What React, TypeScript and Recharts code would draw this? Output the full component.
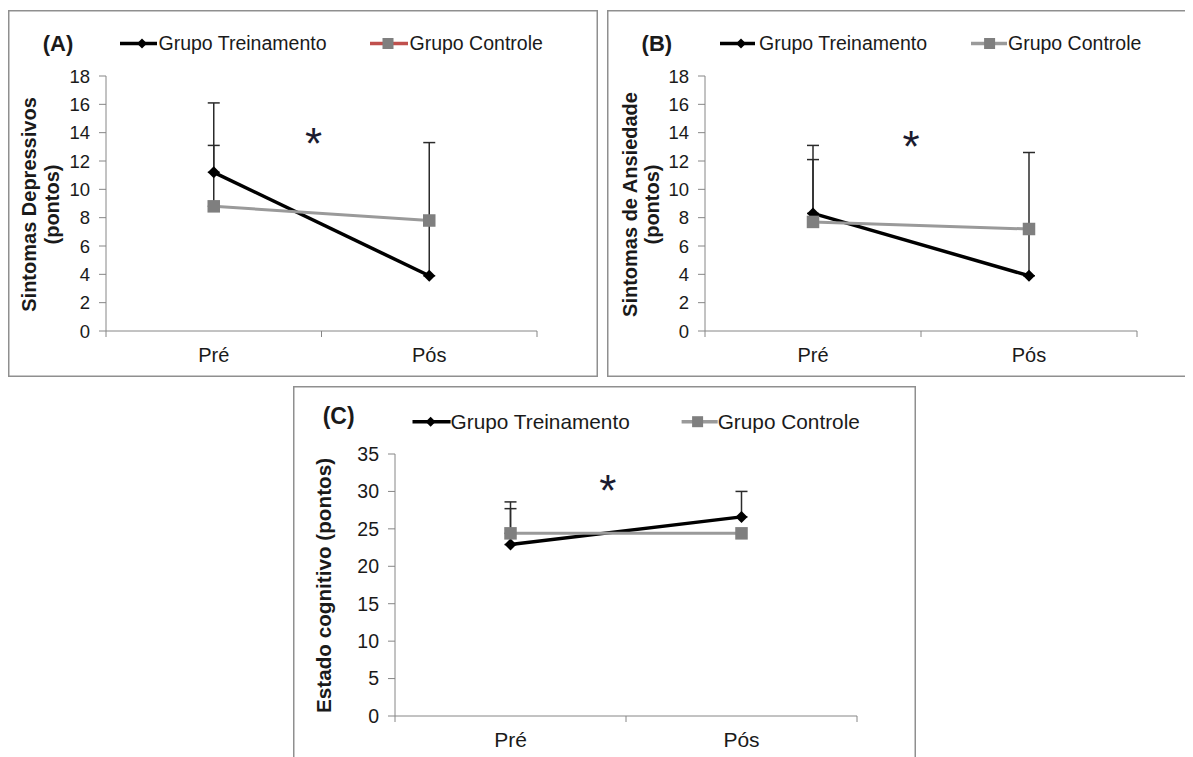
import React from 'react';
import { LineChart, Line, XAxis, YAxis, ErrorBar, ReferenceDot } from 'recharts';

// ---------- data ----------
const categories = ['Pré', 'Pós'];
const seriesNames = ['Grupo Treinamento', 'Grupo Controle'];

const depTreino = [11.2, 3.9];
const depTreinoErr = [4.9, 9.4];
const depControle = [8.8, 7.8];
const depControleErr = [4.3, undefined];

const anxTreino = [8.3, 3.9];
const anxTreinoErr = [4.8, 8.7];
const anxControle = [7.7, 7.2];
const anxControleErr = [4.4, undefined];

const cogTreino = [22.9, 26.6];
const cogTreinoErr = [5.7, 3.4];
const cogControle = [24.4, 24.4];
const cogControleErr = [3.3, undefined];

const depTicks = [0, 2, 4, 6, 8, 10, 12, 14, 16, 18];
const anxTicks = [0, 2, 4, 6, 8, 10, 12, 14, 16, 18];
const cogTicks = [0, 5, 10, 15, 20, 25, 30, 35];

// asterisk annotation positions (data units: x in category-boundary units, y in axis units)
const depStar = { x: 0.963, y: 14.0 };
const anxStar = { x: 0.954, y: 13.8 };
const cogStar = { x: 0.921, y: 31.6 };

// ---------- styles ----------
const FONT = '"Liberation Sans", Arial, Helvetica, sans-serif';
const AXIS = '#868686';
const TEXT = '#1a1a1a';
const BORDER = '#8f8f8f';
const TREINO = '#000000';
const CONTROLE_LINE = '#9a9a9a';
const CONTROLE_MARK = '#7f7f7f';
const ERR = '#2b2b2b';

function buildRows(t: number[], tErr: any[], c: number[], cErr: any[]) {
  return categories.map((name, i) => ({
    pos: i + 0.5,
    name,
    treino: t[i],
    controle: c[i],
    treinoErr: tErr[i] == null ? undefined : [0, tErr[i]],
    controleErr: cErr[i] == null ? undefined : [0, cErr[i]],
  }));
}

const depRows = buildRows(depTreino, depTreinoErr, depControle, depControleErr);
const anxRows = buildRows(anxTreino, anxTreinoErr, anxControle, anxControleErr);
const cogRows = buildRows(cogTreino, cogTreinoErr, cogControle, cogControleErr);

const diamondDot = (props: any) => {
  const { cx, cy, index } = props;
  if (cx == null || cy == null) return <g key={`dmn-${index}`} />;
  const h = 6;
  return (
    <path
      key={`dm-${index}`}
      d={`M${cx},${cy - h}L${cx + h},${cy}L${cx},${cy + h}L${cx - h},${cy}Z`}
      fill={TREINO}
    />
  );
};

const squareDot = (props: any) => {
  const { cx, cy, index } = props;
  if (cx == null || cy == null) return <g key={`sqn-${index}`} />;
  const s = 12.5;
  return <rect key={`sq-${index}`} x={cx - s / 2} y={cy - s / 2} width={s} height={s} fill={CONTROLE_MARK} />;
};

const makeXTick = (fontSize: number) => (props: any) => {
  const { x, y, payload } = props;
  const v = payload.value;
  if (Number.isInteger(v)) {
    return <line x1={x} y1={y} x2={x} y2={y + 6} stroke={AXIS} strokeWidth={1} />;
  }
  return (
    <text x={x} y={y + 31} textAnchor="middle" fontSize={fontSize} fill={TEXT} fontFamily={FONT}>
      {categories[Math.floor(v)]}
    </text>
  );
};

const starShape = (props: any) => {
  const { cx, cy } = props;
  const fs = 44;
  return (
    <text x={cx} y={cy + fs * 0.6} textAnchor="middle" fontSize={fs} fill="#1b1b2f" fontFamily={FONT}>
      *
    </text>
  );
};

type LegendSpec = {
  y: number;
  baseline: number;
  fontSize: number;
  t: number[];
  c: number[];
  cLineColor: string;
};

type PanelProps = {
  left: number;
  top: number;
  width: number;
  height: number;
  margin: { top: number; right: number; bottom: number; left: number };
  rows: any[];
  yDomain: [number, number];
  yTicks: number[];
  star: { x: number; y: number };
  title: { text: string; x: number; baseline: number; fontSize: number };
  yLabel: { lines: string[]; baselines: number[]; center: number; fontSize: number };
  legend: LegendSpec;
  yTickFont: number;
  xTickFont: number;
};

function Panel(p: PanelProps) {
  const L = p.legend;
  return (
    <div style={{ position: 'absolute', left: p.left, top: p.top, width: p.width, height: p.height }}>
      <LineChart width={p.width} height={p.height} data={p.rows} margin={p.margin}>
        <XAxis
          dataKey="pos"
          type="number"
          domain={[0, 2]}
          ticks={[0, 0.5, 1, 1.5, 2]}
          interval={0}
          allowDataOverflow
          height={30}
          tickLine={false}
          tickSize={0}
          tickMargin={0}
          axisLine={{ stroke: AXIS, strokeWidth: 1 }}
          tick={makeXTick(p.xTickFont)}
        />
        <YAxis
          type="number"
          domain={p.yDomain}
          ticks={p.yTicks}
          interval={0}
          allowDataOverflow
          width={60}
          tickSize={7}
          tickMargin={9}
          axisLine={{ stroke: AXIS, strokeWidth: 1 }}
          tickLine={{ stroke: AXIS, strokeWidth: 1 }}
          tick={{ fill: TEXT, fontSize: p.yTickFont, fontFamily: FONT }}
        />
        <Line
          dataKey="treino"
          name={seriesNames[0]}
          stroke={TREINO}
          strokeWidth={3.5}
          dot={diamondDot}
          activeDot={false}
          isAnimationActive={false}
        >
          <ErrorBar dataKey="treinoErr" direction="y" width={6} stroke={ERR} strokeWidth={1.5} />
        </Line>
        <Line
          dataKey="controle"
          name={seriesNames[1]}
          stroke={CONTROLE_LINE}
          strokeWidth={3}
          dot={squareDot}
          activeDot={false}
          isAnimationActive={false}
        >
          <ErrorBar dataKey="controleErr" direction="y" width={6} stroke={ERR} strokeWidth={1.5} />
        </Line>
        <ReferenceDot x={p.star.x} y={p.star.y} r={1} shape={starShape} ifOverflow="visible" />
      </LineChart>
      <svg
        width={p.width}
        height={p.height}
        style={{ position: 'absolute', left: 0, top: 0, pointerEvents: 'none' }}
      >
        <rect x={0.75} y={0.75} width={p.width - 1.5} height={p.height - 1.5} fill="none" stroke={BORDER} strokeWidth={1.5} />
        <text x={p.title.x} y={p.title.baseline} fontSize={p.title.fontSize} fontWeight="bold" fill={TEXT} fontFamily={FONT}>
          {p.title.text}
        </text>
        <g transform="rotate(-90)">
          {p.yLabel.lines.map((ln, i) => (
            <text
              key={i}
              x={-p.yLabel.center}
              y={p.yLabel.baselines[i]}
              textAnchor="middle"
              fontSize={p.yLabel.fontSize}
              fontWeight="bold"
              fill={TEXT}
              fontFamily={FONT}
            >
              {ln}
            </text>
          ))}
        </g>
        {/* legend: Grupo Treinamento */}
        <line x1={L.t[0]} y1={L.y} x2={L.t[1]} y2={L.y} stroke={TREINO} strokeWidth={3.5} />
        <path
          d={`M${L.t[2]},${L.y - 5}L${L.t[2] + 5},${L.y}L${L.t[2]},${L.y + 5}L${L.t[2] - 5},${L.y}Z`}
          fill={TREINO}
        />
        <text x={L.t[3]} y={L.baseline} fontSize={L.fontSize} fill={TEXT} fontFamily={FONT}>
          {seriesNames[0]}
        </text>
        {/* legend: Grupo Controle */}
        <line x1={L.c[0]} y1={L.y} x2={L.c[1]} y2={L.y} stroke={L.cLineColor} strokeWidth={3.5} />
        <rect x={L.c[2] - 5.5} y={L.y - 5.5} width={11} height={11} fill={CONTROLE_MARK} />
        <text x={L.c[3]} y={L.baseline} fontSize={L.fontSize} fill={TEXT} fontFamily={FONT}>
          {seriesNames[1]}
        </text>
      </svg>
    </div>
  );
}

export default function App() {
  return (
    <div style={{ position: 'relative', width: 1177, height: 749, overflow: 'hidden', fontFamily: FONT }}>
      <style>{'html,body{overflow:hidden;}'}</style>
      <Panel
        left={0}
        top={2}
        width={590}
        height={367}
        margin={{ top: 66, right: 61, bottom: 16, left: 38 }}
        rows={depRows}
        yDomain={[0, 18]}
        yTicks={depTicks}
        star={depStar}
        title={{ text: '(A)', x: 34.7, baseline: 41, fontSize: 22 }}
        yLabel={{ lines: ['Sintomas Depressivos', '(pontos)'], baselines: [28, 50.5], center: 194.5, fontSize: 20 }}
        legend={{ y: 33.5, baseline: 40, fontSize: 19.5, t: [112, 149, 134, 150.5], c: [362, 400, 380, 401.5], cLineColor: '#c0504d' }}
        yTickFont={18.5}
        xTickFont={20}
      />
      <Panel
        left={599}
        top={2}
        width={582}
        height={367}
        margin={{ top: 66, right: 52, bottom: 16, left: 38 }}
        rows={anxRows}
        yDomain={[0, 18]}
        yTicks={anxTicks}
        star={anxStar}
        title={{ text: '(B)', x: 34.6, baseline: 41, fontSize: 22 }}
        yLabel={{ lines: ['Sintomas de Ansiedade', '(pontos)'], baselines: [29.5, 51.5], center: 194.5, fontSize: 20 }}
        legend={{ y: 33.5, baseline: 40, fontSize: 19.5, t: [113, 148, 134, 152], c: [364, 400, 382.6, 401], cLineColor: CONTROLE_LINE }}
        yTickFont={18.5}
        xTickFont={20}
      />
      <Panel
        left={285}
        top={378}
        width={623}
        height={400}
        margin={{ top: 68, right: 59, bottom: 40, left: 42 }}
        rows={cogRows}
        yDomain={[0, 35]}
        yTicks={cogTicks}
        star={cogStar}
        title={{ text: '(C)', x: 29.7, baseline: 38, fontSize: 23 }}
        yLabel={{ lines: ['Estado cognitivo (pontos)'], baselines: [38], center: 199.5, fontSize: 20.7 }}
        legend={{ y: 35.7, baseline: 42.5, fontSize: 20.8, t: [119.5, 157.6, 137.6, 157.6], c: [388.6, 424.7, 404.6, 424.7], cLineColor: CONTROLE_LINE }}
        yTickFont={19.5}
        xTickFont={21}
      />
    </div>
  );
}
